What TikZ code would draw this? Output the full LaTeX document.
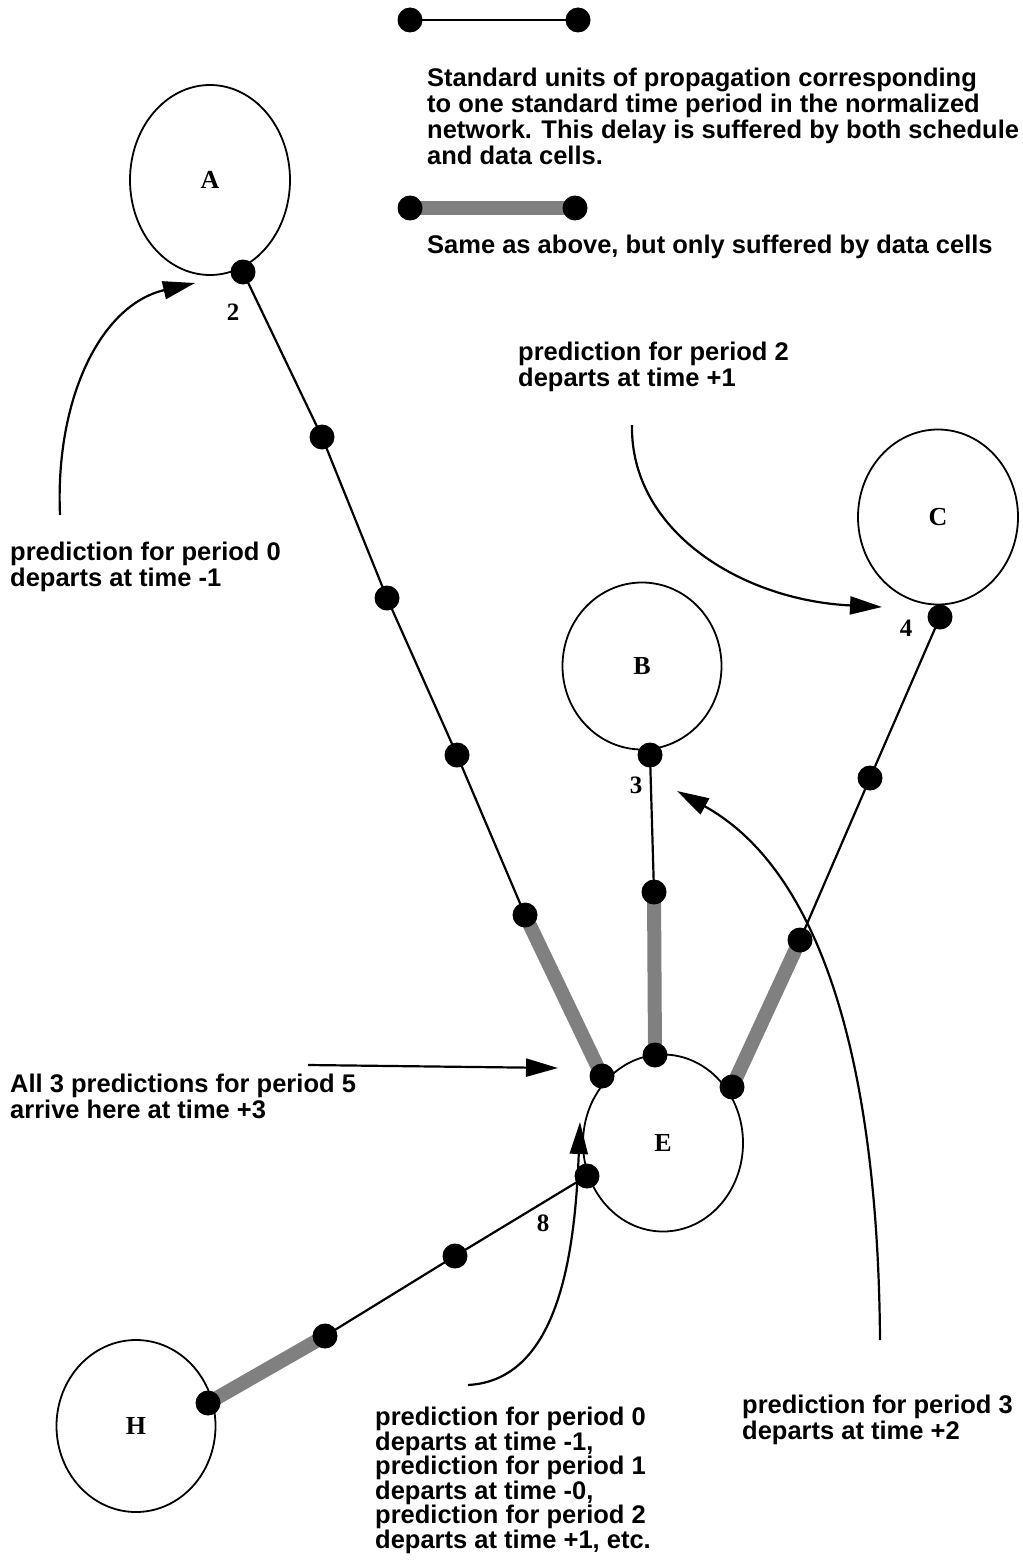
\documentclass[tikz,border=0pt]{standalone}
\usepackage{fontspec}
\setmainfont{Liberation Serif}
\setsansfont{Liberation Sans}
\usetikzlibrary{shapes.geometric,arrows.meta,backgrounds}
\begin{document}
\begin{tikzpicture}[x=1pt,y=-1pt,
  site/.style={draw,ellipse,line width=1.8pt,inner sep=0pt,font=\bfseries\fontsize{26}{26}\selectfont},
  cell/.style={circle,fill=black,inner sep=0pt,minimum size=25pt},
  hop/.style={line width=2.2pt},
  datahop/.style={line width=14pt,black!50},
  tag/.style={inner sep=0pt,font=\bfseries\fontsize{25}{25}\selectfont},
  note/.style={align=left,inner sep=0pt,anchor=base west,font=\sffamily\bfseries\fontsize{25.5}{26}\selectfont},
  pointer/.style={line width=2.2pt,-{Triangle[length=32pt,width=18pt]}}
]
\useasboundingbox (0,0) rectangle (1022,1565);

% legend
\node[cell] (la1) at (410,20) {};
\node[cell] (la2) at (578,20) {};
\node[cell] (lb1) at (410,208) {};
\node[cell] (lb2) at (575,208) {};
% multi-line notes are placed by the baseline of their last line
\node[note] (lta) at (427,165) {Standard units of propagation corresponding\\to one standard time period in the normalized\\network. This delay is suffered by both schedule\\and data cells.};
\node[note] (ltb) at (427,253) {Same as above, but only suffered by data cells};

% switching sites
\node[site,minimum width=160pt,minimum height=190pt] (A) at (210,180) {A};
\node[site,minimum width=159pt,minimum height=167pt] (B) at (642,666) {B};
\node[site,minimum width=160pt,minimum height=175pt] (C) at (938,517) {C};
\node[site,minimum width=160pt,minimum height=177pt] (E) at (663,1143) {E};
\node[site,minimum width=159pt,minimum height=172pt] (H) at (136,1426) {H};

% cells along the links
\node[cell] (a0) at (243,272) {};
\node[cell] (a1) at (322,437) {};
\node[cell] (a2) at (387,598) {};
\node[cell] (a3) at (457,755) {};
\node[cell] (a4) at (525,915) {};
\node[cell] (a5) at (602,1076) {};

\node[cell] (b0) at (650,755) {};
\node[cell] (b1) at (654,892) {};
\node[cell] (b2) at (655,1055) {};

\node[cell] (c0) at (940,617) {};
\node[cell] (c1) at (870,778) {};
\node[cell] (c2) at (800,940) {};
\node[cell] (c3) at (732,1087) {};

\node[cell] (h0) at (587,1176) {};
\node[cell] (h1) at (455,1256) {};
\node[cell] (h2) at (325,1336) {};
\node[cell] (h3) at (208,1403) {};

% link labels
\node[tag] (n2) at (233,312) {2};
\node[tag] (n3) at (636,785) {3};
\node[tag] (n4) at (906,628) {4};
\node[tag] (n8) at (543,1223) {8};

\begin{pgfonlayer}{background}
  \draw[hop] (la1.center) -- (la2.center);
  \draw[datahop] (lb1.center) -- (lb2.center);
  \draw[hop] (a0.center) -- (a1.center) -- (a2.center) -- (a3.center) -- (a4.center);
  \draw[datahop] (a4.center) -- (a5.center);
  \draw[hop] (b0.center) -- (b1.center);
  \draw[datahop] (b1.center) -- (b2.center);
  \draw[hop] (c0.center) -- (c1.center) -- (c2.center);
  \draw[datahop] (c2.center) -- (c3.center);
  \draw[hop] (h0.center) -- (h1.center) -- (h2.center);
  \draw[datahop] (h2.center) -- (h3.center);
\end{pgfonlayer}

% annotations
\node[note] (t0) at (10,586) {prediction for period 0\\departs at time -1};
\node[note] (t2) at (518,386) {prediction for period 2\\departs at time +1};
\node[note] (t5) at (10,1118) {All 3 predictions for period 5\\arrive here at time +3};
\node[note] (t3) at (742,1439) {prediction for period 3\\departs at time +2};
\node[note,font=\sffamily\bfseries\fontsize{25.5}{24.5}\selectfont] (tH) at (375,1548) {prediction for period 0\\departs at time -1,\\prediction for period 1\\departs at time -0,\\prediction for period 2\\departs at time +1, etc.};

\coordinate (s0) at (60,515);
\coordinate (e0) at (195,283);
\coordinate (s2) at (632,425);
\coordinate (e2) at (882,607);
\coordinate (s3) at (880,1340);
\coordinate (e3) at (677,791);
\coordinate (s5) at (308,1065);
\coordinate (e5) at (558,1068);
\coordinate (sH) at (468,1385);
\coordinate (eH) at (580,1122);

\draw[pointer] (s0) .. controls (55,400) and (100,305) .. (e0);
\draw[pointer] (s2) .. controls (630,530) and (740,600) .. (e2);
\draw[pointer] (s3) .. controls (878,1060) and (820,870) .. (e3);
\draw[pointer] (s5) -- (e5);
\draw[pointer] (sH) .. controls (560,1380) and (575,1250) .. (eH);
\end{tikzpicture}
\end{document}
